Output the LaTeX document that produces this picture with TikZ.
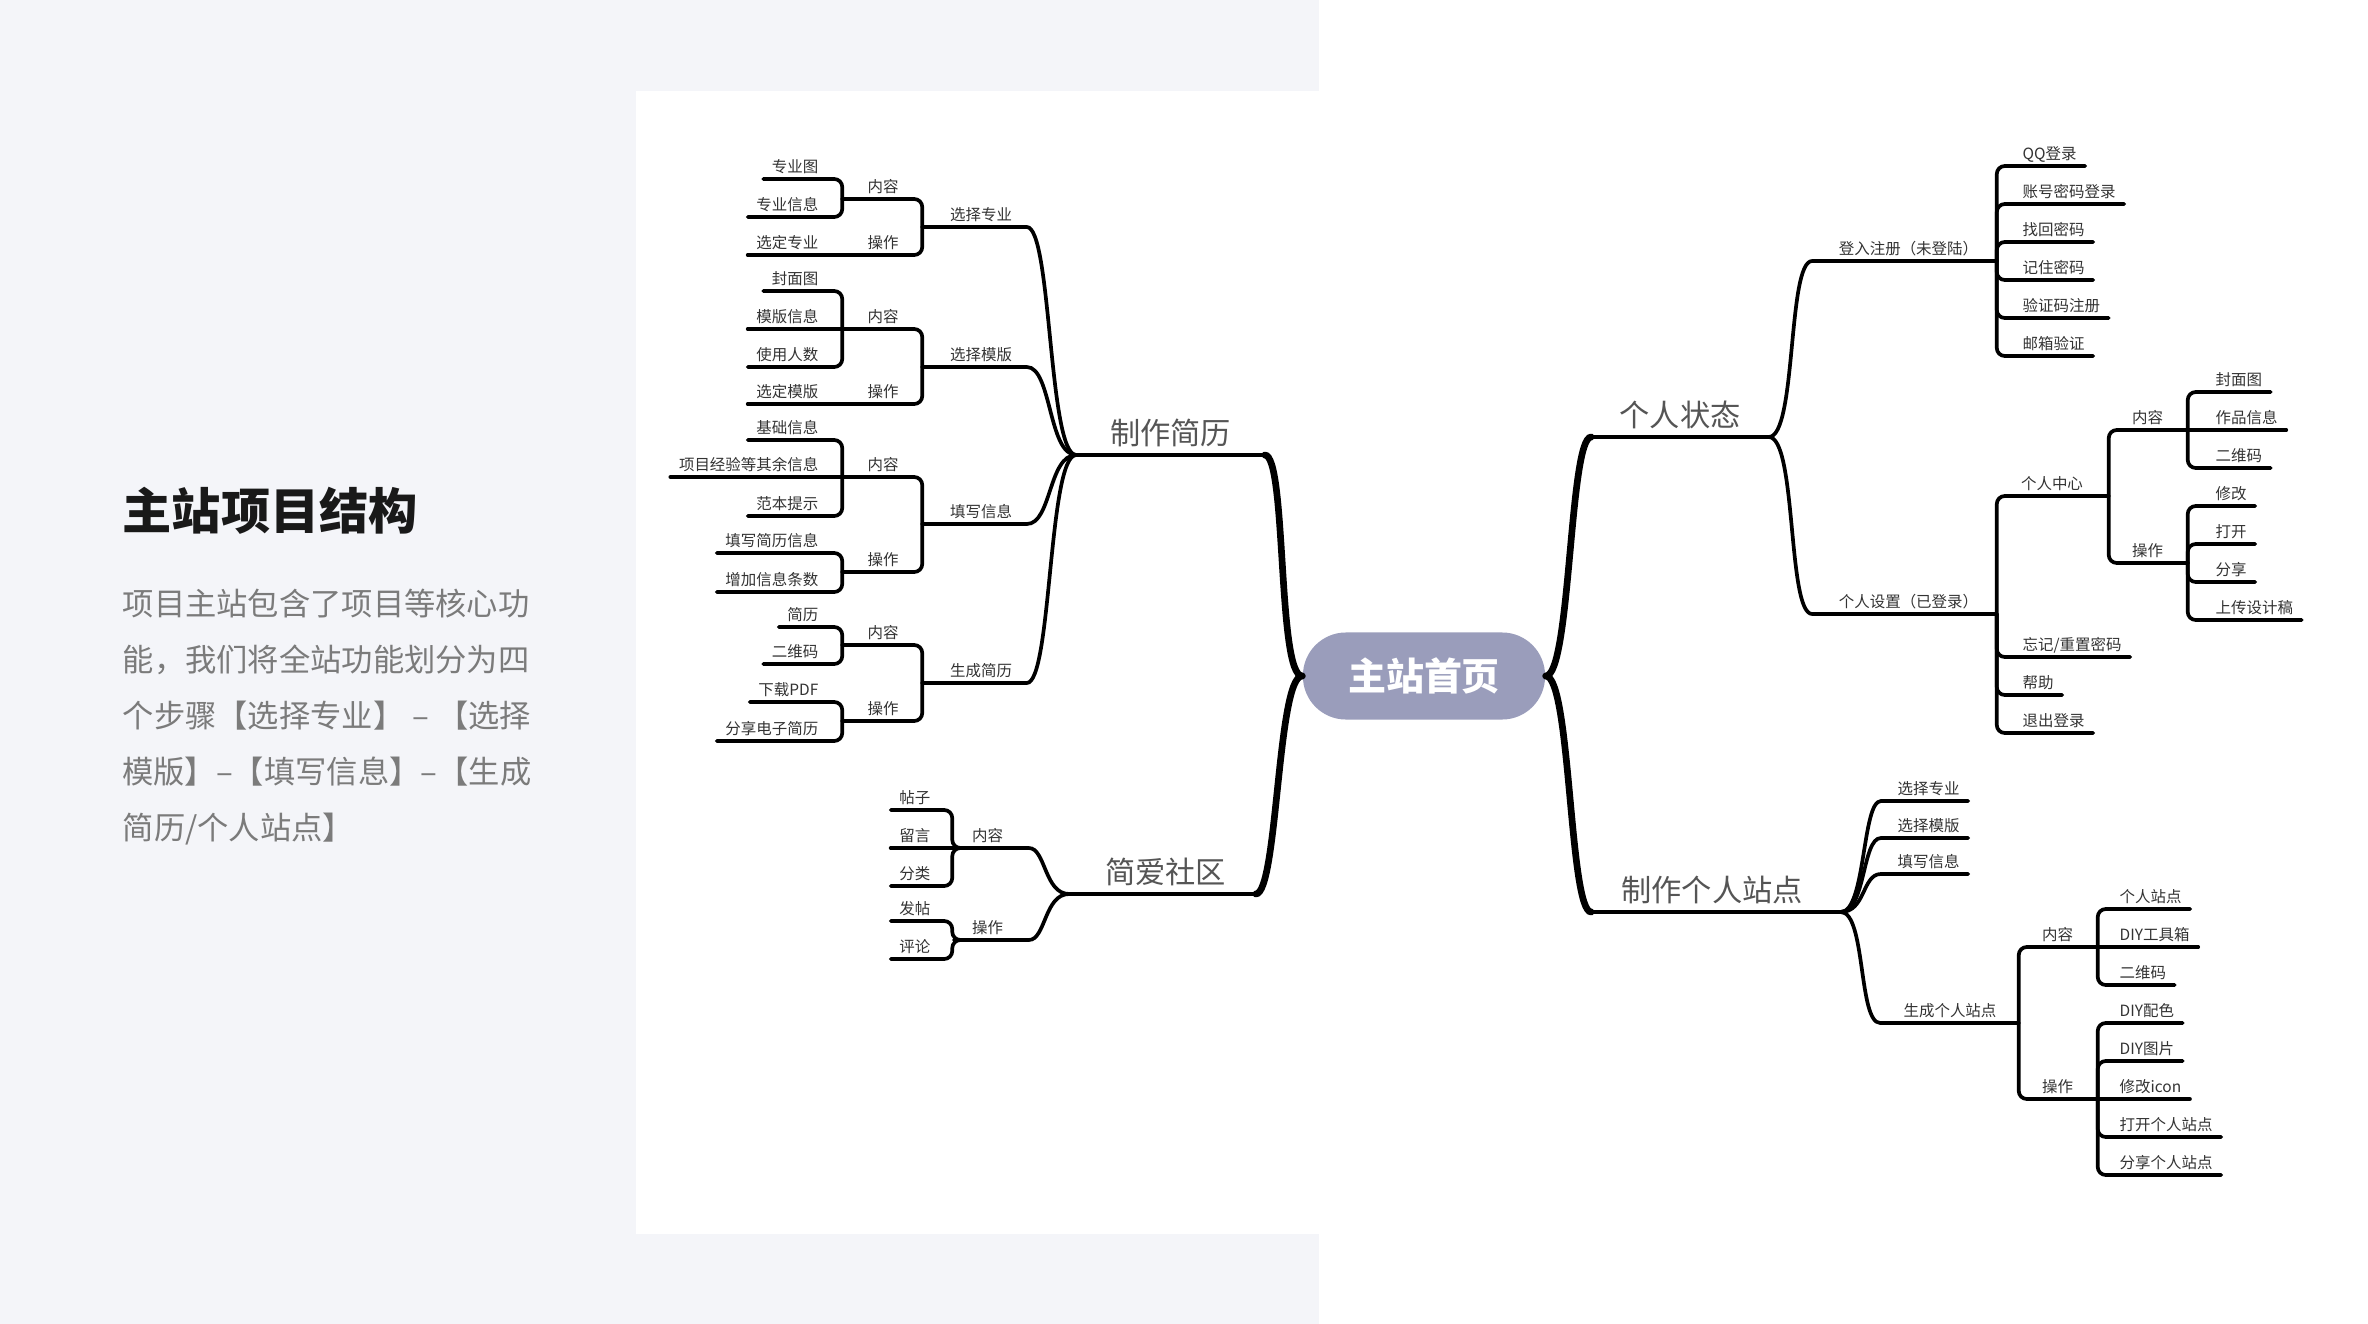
\documentclass[tikz,border=0pt]{standalone}
\usepackage{fontspec}
\newfontfamily\cjk{Noto Sans CJK SC}
\usepackage{tikz}
\definecolor{pagebg}{HTML}{F4F5F9}
\definecolor{hubfill}{HTML}{9A9DBB}
\definecolor{topicgray}{HTML}{555555}
\definecolor{subgray}{HTML}{333333}
\definecolor{introgray}{HTML}{7B7B7B}
\tikzstyle{topic}=[anchor=south,inner xsep=0,inner ysep=1.65pt,text height=7.6pt,text depth=1pt,text=topicgray,font=\cjk\fontsize{8.6}{10}\selectfont]
\tikzstyle{sub}=[anchor=south,inner xsep=0,inner ysep=1.2pt,text height=3.9pt,text depth=0.5pt,text=subgray,font=\cjk\fontsize{4.4}{5}\selectfont]
\tikzstyle{subL}=[sub,text width=0.83cm,align=right,inner xsep=0.06cm]
\tikzstyle{leafL}=[sub,anchor=south east,inner xsep=0.08cm]
\tikzstyle{leafR}=[sub,anchor=south west,inner xsep=0.08cm]
\tikzstyle{branch}=[draw,black,line width=1.05pt,line cap=round,rounded corners=2.3pt]
\tikzstyle{trunk}=[draw,black,line width=1.9pt,line cap=round]

\begin{document}
\begin{tikzpicture}[x=0.01cm,y=-0.01cm]
% page
\fill[pagebg] (0,0) rectangle (2368,1324);
\fill[white] (636,91) rectangle (1320,1234);
\fill[white] (1319,0) rectangle (2368,1324);

\node[anchor=west,inner sep=0,font=\cjk\bfseries\fontsize{14}{16}\selectfont,text=black!90] (title) at (122,511) {主站项目结构};
\node[anchor=west,inner sep=0,align=left,text=introgray,font=\cjk\fontsize{8.9}{15.9}\selectfont] (intro) at (122,717)
 {项目主站包含了项目等核心功\\
  能，我们将全站功能划分为四\\
  \makebox[4.08cm]{个步骤【选择专业】\hfill–\hfill【选择}\\
  \makebox[4.08cm]{模版】\hfill–\hfill【填写信息】\hfill–\hfill【生成}\\
  简历/个人站点】};

% center
\node[fill=hubfill,rounded corners=0.43cm,minimum width=2.42cm,minimum height=0.87cm,inner sep=0,text=white,
      font=\cjk\bfseries\fontsize{10.8}{12}\selectfont] (zzsy) at (1424,676) {主站首页};

% % % left: 制作简历
	\node[topic,minimum width=1.87cm] (zzjl) at (1170.5,455) {制作简历};
	\node[subL] (xzzy) at (970.5,227) {选择专业};
	\node[subL] (xzmb) at (970.5,367) {选择模版};
	\node[subL] (txxx) at (970.5,524) {填写信息};
	\node[subL] (scjl) at (970.5,683) {生成简历};

	\node[sub,minimum width=0.8cm] (nr1) at (883,199) {内容};
	\node[sub,minimum width=0.8cm] (cz1) at (883,255) {操作};
	\node[sub,minimum width=0.8cm] (nr2) at (883,329) {内容};
	\node[sub,minimum width=0.8cm] (cz2) at (883,404) {操作};
	\node[sub,minimum width=0.8cm] (nr3) at (883,477) {内容};
	\node[sub,minimum width=0.8cm] (cz3) at (883,572) {操作};
	\node[sub,minimum width=0.8cm] (nr4) at (883,645) {内容};
	\node[sub,minimum width=0.8cm] (cz4) at (883,721) {操作};

	\node[leafL] (zyt) at (827,179) {专业图};
	\node[leafL] (zyxx) at (827,217) {专业信息};
	\node[leafL] (xdzy) at (827,255) {选定专业};
	\node[leafL] (fmt) at (827,291) {封面图};
	\node[leafL] (mbxx) at (827,329) {模版信息};
	\node[leafL] (syrs) at (827,367) {使用人数};
	\node[leafL] (xdmb) at (827,404) {选定模版};
	\node[leafL] (jcxx) at (827,440) {基础信息};
	\node[leafL] (xmjy) at (827,477) {项目经验等其余信息};
	\node[leafL] (fbts) at (827,516) {范本提示};
	\node[leafL] (txjl) at (827,553) {填写简历信息};
	\node[leafL] (zjxx) at (827,592) {增加信息条数};
	\node[leafL] (jl) at (827,627) {简历};
	\node[leafL] (ewm) at (827,664) {二维码};
	\node[leafL] (xzpdf) at (827,702) {下载PDF};
	\node[leafL] (fxjl) at (827,741) {分享电子简历};

	\path[trunk] (zzsy.west) .. controls +(-25,0) and +(22,0) .. (zzjl.south east);
	\path[branch] (zzjl.south east) -- (zzjl.south west);
	\path[branch] (zzjl.south west) .. controls +(-28,0) and +(33,0) .. (xzzy.south east) -- (xzzy.south west);
	\path[branch] (zzjl.south west) .. controls +(-28,0) and +(33,0) .. (xzmb.south east) -- (xzmb.south west);
	\path[branch] (zzjl.south west) .. controls +(-28,0) and +(33,0) .. (txxx.south east) -- (txxx.south west);
	\path[branch] (zzjl.south west) .. controls +(-28,0) and +(33,0) .. (scjl.south east) -- (scjl.south west);

	\path[branch] (xzzy.south west) |- (nr1.south west);
	\path[branch] (xzzy.south west) |- (cz1.south west);
	\path[branch] (nr1.south west) |- (zyt.south west);
	\path[branch] (nr1.south west) |- (zyxx.south west);
	\path[branch] (cz1.south west) -- (xdzy.south west);

	\path[branch] (xzmb.south west) |- (nr2.south west);
	\path[branch] (xzmb.south west) |- (cz2.south west);
	\path[branch] (nr2.south west) |- (fmt.south west);
	\path[branch] (nr2.south west) -- (mbxx.south west);
	\path[branch] (nr2.south west) |- (syrs.south west);
	\path[branch] (cz2.south west) -- (xdmb.south west);

	\path[branch] (txxx.south west) |- (nr3.south west);
	\path[branch] (txxx.south west) |- (cz3.south west);
	\path[branch] (nr3.south west) |- (jcxx.south west);
	\path[branch] (nr3.south west) -- (xmjy.south west);
	\path[branch] (nr3.south west) |- (fbts.south west);
	\path[branch] (cz3.south west) |- (txjl.south west);
	\path[branch] (cz3.south west) |- (zjxx.south west);

	\path[branch] (scjl.south west) |- (nr4.south west);
	\path[branch] (scjl.south west) |- (cz4.south west);
	\path[branch] (nr4.south west) |- (jl.south west);
	\path[branch] (nr4.south west) |- (ewm.south west);
	\path[branch] (cz4.south west) |- (xzpdf.south west);
	\path[branch] (cz4.south west) |- (fxjl.south west);

% % % left: 简爱社区
	\node[topic,minimum width=1.85cm] (jasq) at (1162.5,894) {\hspace*{0.06cm}简爱社区};
	\node[sub,minimum width=0.65cm] (nr5) at (987.5,848) {内容};
	\node[sub,minimum width=0.65cm] (cz5) at (987.5,940) {操作};
	\node[leafL] (tz) at (939,810) {帖子};
	\node[leafL] (ly) at (939,848) {留言};
	\node[leafL] (fl) at (939,886) {分类};
	\node[leafL] (ft) at (939,921) {发帖};
	\node[leafL] (pl) at (939,959) {评论};

	\path[trunk] (zzsy.west) .. controls +(-25,0) and +(22,0) .. (jasq.south east);
	\path[branch] (jasq.south east) -- (jasq.south west);
	\path[branch] (jasq.south west) .. controls +(-25,0) and +(25,0) .. (nr5.south east) -- (nr5.south west);
	\path[branch] (jasq.south west) .. controls +(-25,0) and +(25,0) .. (cz5.south east) -- (cz5.south west);
	\path[branch] (nr5.south west) -- ++(-2,0) |- (tz.south west);
	\path[branch] (nr5.south west) -- (ly.south west);
	\path[branch] (nr5.south west) -- ++(-2,0) |- (fl.south west);
	\path[branch] (cz5.south west) -- ++(-2,0) |- (ft.south west);
	\path[branch] (cz5.south west) -- ++(-2,0) |- (pl.south west);

% % % right: 个人状态
	\node[topic,minimum width=1.76cm] (grzt) at (1680,437) {个人状态};
	\node[sub,minimum width=1.75cm] (dlzc) at (1908.5,261) {登入注册（未登陆）};
	\node[sub,minimum width=1.75cm] (grsz) at (1908.5,614) {个人设置（已登录）};

	\node[leafR] (qqdl) at (2014,166) {QQ登录};
	\node[leafR] (zhdl) at (2014,204) {账号密码登录};
	\node[leafR] (zhmm) at (2014,242) {找回密码};
	\node[leafR] (jzmm) at (2014,280) {记住密码};
	\node[leafR] (yzzc) at (2014,318) {验证码注册};
	\node[leafR] (yxyz) at (2014,356) {邮箱验证};

	\node[sub,minimum width=1.12cm] (grzx) at (2052,496) {个人中心};
	\node[leafR] (wjmm) at (2014,657) {忘记/重置密码};
	\node[leafR] (bzhu) at (2014,695) {帮助};
	\node[leafR] (tcdl) at (2014,733) {退出登录};

	\node[sub,minimum width=0.79cm] (nr6) at (2147.5,430) {内容};
	\node[sub,minimum width=0.79cm] (cz6) at (2147.5,563) {操作};
	\node[leafR] (fmt2) at (2207,392) {封面图};
	\node[leafR] (zpxx) at (2207,430) {作品信息};
	\node[leafR] (ewm2) at (2207,468) {二维码};
	\node[leafR] (xg) at (2207,506) {修改};
	\node[leafR] (dk) at (2207,544) {打开};
	\node[leafR] (fx) at (2207,582) {分享};
	\node[leafR] (scsj) at (2207,620) {上传设计稿};

	\path[trunk] (zzsy.east) .. controls +(25,0) and +(-22,0) .. (grzt.south west);
	\path[branch] (grzt.south west) -- (grzt.south east);
	\path[branch] (grzt.south east) .. controls +(28,0) and +(-33,0) .. (dlzc.south west) -- (dlzc.south east);
	\path[branch] (grzt.south east) .. controls +(28,0) and +(-33,0) .. (grsz.south west) -- (grsz.south east);

	\path[branch] (dlzc.south east) |- (qqdl.south east);
	\path[branch] (dlzc.south east) |- (zhdl.south east);
	\path[branch] (dlzc.south east) |- (zhmm.south east);
	\path[branch] (dlzc.south east) |- (jzmm.south east);
	\path[branch] (dlzc.south east) |- (yzzc.south east);
	\path[branch] (dlzc.south east) |- (yxyz.south east);

	\path[branch] (grsz.south east) |- (grzx.south east);
	\path[branch] (grsz.south east) |- (wjmm.south east);
	\path[branch] (grsz.south east) |- (bzhu.south east);
	\path[branch] (grsz.south east) |- (tcdl.south east);

	\path[branch] (grzx.south east) |- (nr6.south east);
	\path[branch] (grzx.south east) |- (cz6.south east);
	\path[branch] (nr6.south east) |- (fmt2.south east);
	\path[branch] (nr6.south east) -- (zpxx.south east);
	\path[branch] (nr6.south east) |- (ewm2.south east);
	\path[branch] (cz6.south east) |- (xg.south east);
	\path[branch] (cz6.south east) |- (dk.south east);
	\path[branch] (cz6.south east) |- (fx.south east);
	\path[branch] (cz6.south east) |- (scsj.south east);

% % % right: 制作个人站点
	\node[topic,minimum width=2.48cm] (zzgr) at (1716,912) {制作个人站点\hspace*{0.08cm}};
	\node[leafR] (xzzy2) at (1889,801) {选择专业};
	\node[leafR] (xzmb2) at (1889,838) {选择模版};
	\node[leafR] (txxx2) at (1889,874) {填写信息};
	\node[sub,minimum width=1.29cm] (scgr) at (1953.5,1023) {生成个人站点\hspace*{0.07cm}};

	\node[sub,minimum width=0.79cm] (nr7) at (2057.5,947) {内容};
	\node[sub,minimum width=0.79cm] (cz7) at (2057.5,1099) {操作};
	\node[leafR] (grzd) at (2111,909) {个人站点};
	\node[leafR] (diygj) at (2111,947) {DIY工具箱};
	\node[leafR] (ewm3) at (2111,985) {二维码};
	\node[leafR] (diypz) at (2111,1023) {DIY配色};
	\node[leafR] (diytp) at (2111,1061) {DIY图片};
	\node[leafR] (xgicon) at (2111,1099) {修改icon};
	\node[leafR] (dkzd) at (2111,1137) {打开个人站点};
	\node[leafR] (fxzd) at (2111,1175) {分享个人站点};

	\path[trunk] (zzsy.east) .. controls +(25,0) and +(-22,0) .. (zzgr.south west);
	\path[branch] (zzgr.south west) -- (zzgr.south east);
	\path[branch] (zzgr.south east) .. controls +(25,0) and +(-27,0) .. (xzzy2.south west) -- (xzzy2.south east);
	\path[branch] (zzgr.south east) .. controls +(25,0) and +(-27,0) .. (xzmb2.south west) -- (xzmb2.south east);
	\path[branch] (zzgr.south east) .. controls +(25,0) and +(-27,0) .. (txxx2.south west) -- (txxx2.south east);
	\path[branch] (zzgr.south east) .. controls +(25,0) and +(-30,0) .. (scgr.south west) -- (scgr.south east);

	\path[branch] (scgr.south east) |- (nr7.south east);
	\path[branch] (scgr.south east) |- (cz7.south east);
	\path[branch] (nr7.south east) |- (grzd.south east);
	\path[branch] (nr7.south east) -- (diygj.south east);
	\path[branch] (nr7.south east) |- (ewm3.south east);
	\path[branch] (cz7.south east) |- (diypz.south east);
	\path[branch] (cz7.south east) |- (diytp.south east);
	\path[branch] (cz7.south east) -- (xgicon.south east);
	\path[branch] (cz7.south east) |- (dkzd.south east);
	\path[branch] (cz7.south east) |- (fxzd.south east);
\end{tikzpicture}
\end{document}
